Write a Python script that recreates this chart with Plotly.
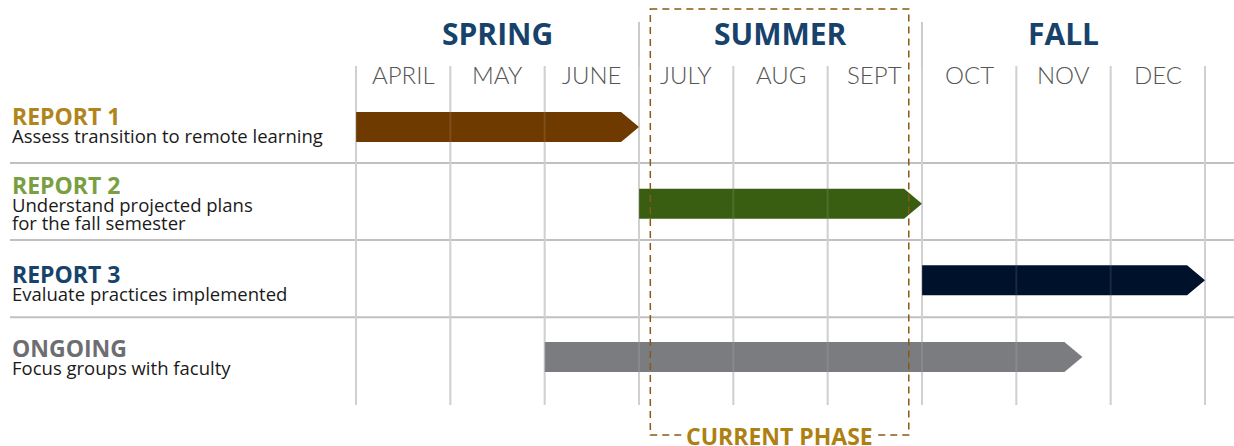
import plotly.graph_objects as go

# ---------------- data ----------------
months = ["APRIL", "MAY", "JUNE", "JULY", "AUG", "SEPT", "OCT", "NOV", "DEC"]
seasons = ["SPRING", "SUMMER", "FALL"]
season_start = [0, 3, 6]
season_len = [3, 3, 3]

task_titles = ["REPORT 1", "REPORT 2", "REPORT 3", "ONGOING"]
task_desc = ["Assess transition to remote learning",
             "Understand projected plans<br>for the fall semester",
             "Evaluate practices implemented",
             "Focus groups with faculty"]
task_start = [0, 3, 6, 2]
task_end = [3, 6, 9, 7.7]

current_phase = [3.12, 5.86]
current_label = "CURRENT PHASE"

# ---------------- styles ----------------
bar_colors = ["#6f3a00", "#395e11", "#00112c", "#7b7c80"]
title_colors = ["#b0861c", "#7a9f42", "#17436b", "#6d6e71"]
season_color = "#17426b"
month_color = "#555555"
grid_color = "#cbcbcb"
phase_color = "#8a5a12"
phase_text = "#ad8012"

W, H = 1234, 446
x0_px, x9_px = 356, 1205
ppm = (x9_px - x0_px) / 9.0
xr = [-x0_px / ppm, (W - x0_px) / ppm]
row0_px, rowsp = 127, 76.67
yr = [(H - row0_px) / rowsp, -row0_px / rowsp]


def py(px):
    return (px - row0_px) / rowsp


fig = go.Figure()
shapes = []
annotations = []

# vertical grid lines
for i in range(len(months) + 1):
    top = py(22) if i in (3, 6) else py(66)
    shapes.append(dict(type="line", xref="x", yref="y", x0=i, x1=i, y0=top, y1=py(405),
                       line=dict(color=grid_color, width=2), layer="below"))
    # faint lines showing through the bars
    shapes.append(dict(type="line", xref="x", yref="y", x0=i, x1=i, y0=py(66), y1=py(405),
                       line=dict(color="rgba(255,255,255,0.10)", width=2), layer="above"))
# horizontal separators
for k in range(len(task_titles) - 1):
    yk = k + 0.47 + 0.005 * k
    shapes.append(dict(type="line", xref="paper", yref="y", x0=10 / W, x1=1, y0=yk, y1=yk,
                       line=dict(color="#c0c0c0", width=2), layer="below"))

# bars (arrow shapes)
tip = 0.19
hh = 0.196
for i, (s, e) in enumerate(zip(task_start, task_end)):
    xs = [s, e - tip, e, e - tip, s, s]
    ys = [i - hh, i - hh, i, i + hh, i + hh, i - hh]
    fig.add_trace(go.Scatter(x=xs, y=ys, fill="toself", fillcolor=bar_colors[i],
                             line=dict(width=0, color=bar_colors[i]), mode="lines",
                             hoverinfo="skip", showlegend=False))

# current phase box
dash = "7px,5px"
shapes.append(dict(type="rect", xref="x", yref="y", x0=current_phase[0], x1=current_phase[1],
                   y0=py(9), y1=py(435), line=dict(color=phase_color, width=1.5, dash=dash),
                   fillcolor="rgba(0,0,0,0)", layer="above"))
annotations.append(dict(x=(current_phase[0] + current_phase[1]) / 2, y=py(435.5), xref="x", yref="y",
                        text="<b>" + current_label + "</b>", showarrow=False, bgcolor="white",
                        font=dict(family="Open Sans", size=23, color=phase_text),
                        borderpad=0, xanchor="center", yanchor="middle"))

# season labels
for name, s0, ln in zip(seasons, season_start, season_len):
    annotations.append(dict(x=s0 + ln / 2, y=py(33), xref="x", yref="y", text="<b>" + name + "</b>",
                            showarrow=False, font=dict(family="Open Sans", size=30, color=season_color)))
# month labels
for i, m in enumerate(months):
    annotations.append(dict(x=i + 0.5, y=py(74.5), xref="x", yref="y", text=m, showarrow=False,
                            font=dict(family="Lato", size=24, color=month_color, weight=300)))

# task labels (title + description in one block)
shift = [3.5, 2, -1.7, 1]
for i, (t, d) in enumerate(zip(task_titles, task_desc)):
    txt = ("<span style='font-size:23px;color:%s'><b>%s</b></span><br>"
           "<span style='font-size:18.5px;color:#1a1a1a'>%s</span>") % (
        title_colors[i], t, d.replace("<br>", "</span><br><span style='font-size:18.5px;color:#1a1a1a'>"))
    annotations.append(dict(x=10 / W, y=i, xref="paper", yref="y", text=txt, align="left",
                            showarrow=False, xanchor="left", yanchor="middle", yshift=shift[i],
                            font=dict(family="Open Sans", size=14, color="#1a1a1a")))

fig.update_layout(width=W, height=H, margin=dict(l=0, r=0, t=0, b=0),
                  plot_bgcolor="white", paper_bgcolor="white",
                  xaxis=dict(range=xr, visible=False, fixedrange=True),
                  yaxis=dict(range=yr, visible=False, fixedrange=True),
                  shapes=shapes, annotations=annotations, showlegend=False)
fig.write_html("out.html", config={"displayModeBar": False},
               post_script="document.body.style.margin='0';document.body.style.overflow='hidden';")
